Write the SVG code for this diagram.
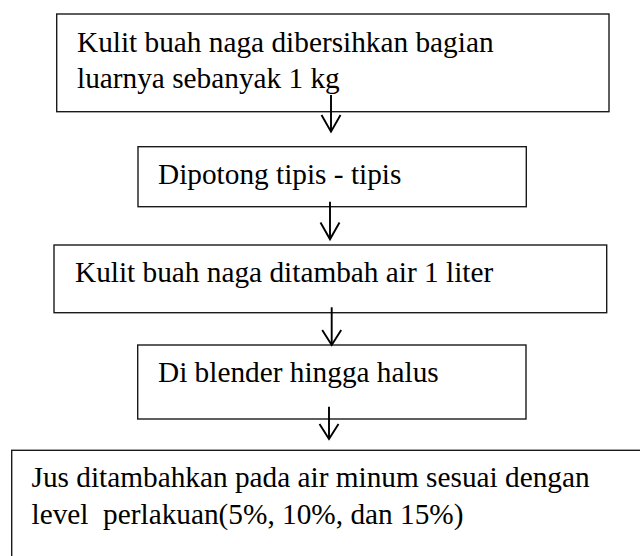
<svg xmlns="http://www.w3.org/2000/svg" width="640" height="556" viewBox="0 0 640 556">
<style>
.box{fill:#fff;stroke:#1a1a1a;stroke-width:1.4}
text{font-family:'Liberation Serif','Times New Roman',serif;font-size:29.3px;fill:#000}
.arr{fill:none;stroke:#000;stroke-width:1.9;stroke-linecap:butt;stroke-linejoin:miter}
</style>
<rect width="640" height="556" fill="#fff"/>
<g id="node1">
<rect class="box" x="56.7" y="14" width="552.3" height="97.7"/>
<text x="77" y="51.7">Kulit buah naga dibersihkan bagian</text>
<text x="77" y="88.3">luarnya sebanyak 1 kg</text>
</g>
<g id="node2">
<rect class="box" x="138" y="146.7" width="388.3" height="60"/>
<text x="158" y="184">Dipotong tipis - tipis</text>
</g>
<g id="node3">
<rect class="box" x="54" y="245" width="552.7" height="67.7"/>
<text x="75" y="282.3">Kulit buah naga ditambah air 1 liter</text>
</g>
<g id="node4">
<rect class="box" x="137.7" y="345" width="388.3" height="74"/>
<text x="158" y="382.3">Di blender hingga halus</text>
</g>
<g id="node5">
<rect class="box" x="11.7" y="450.3" width="640" height="130"/>
<text x="31.5" y="487.3">Jus ditambahkan pada air minum sesuai dengan</text>
<text x="31.5" y="523.7" xml:space="preserve">level  perlakuan(5%, 10%, dan 15%)</text>
</g>
<g id="connectors">
<line class="arr" x1="331" y1="95" x2="331" y2="131.7"/>
<polyline class="arr" points="321.5,115 331,131.7 340.5,115"/>
<line class="arr" x1="330" y1="201.7" x2="330" y2="239.3"/>
<polyline class="arr" points="320.5,222.5 330,239.3 339.5,222.5"/>
<line class="arr" x1="331.7" y1="307.3" x2="331.7" y2="345"/>
<polyline class="arr" points="322.2,330 331.7,345 341.2,330"/>
<line class="arr" x1="329" y1="406.7" x2="329" y2="439"/>
<polyline class="arr" points="319.5,424 329,439 338.5,424"/>
</g>
</svg>
